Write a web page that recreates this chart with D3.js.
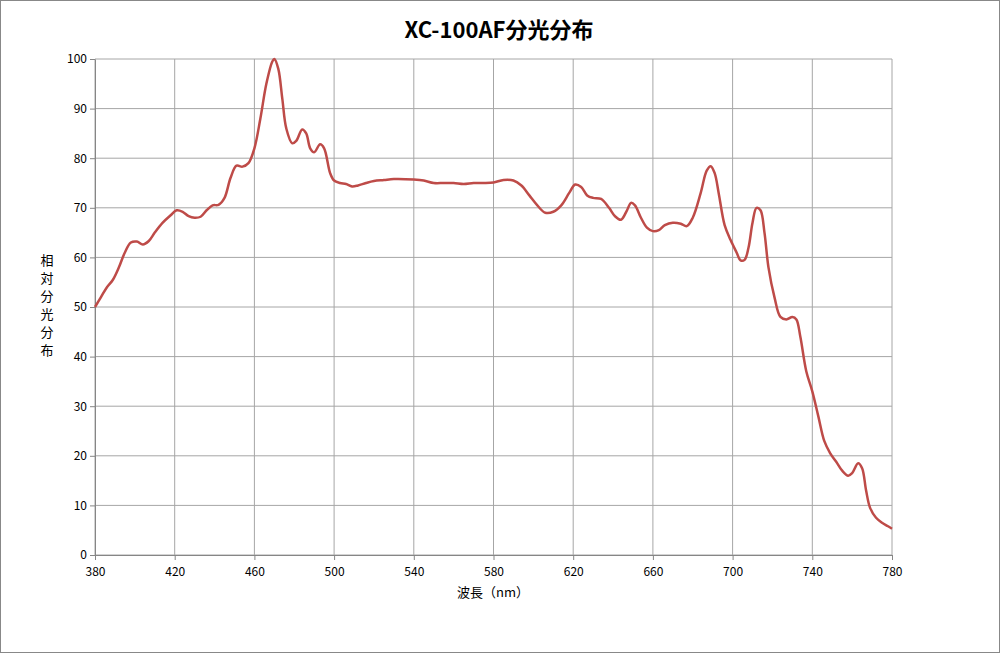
<!DOCTYPE html><html><head><meta charset="utf-8"><script src="https://cdn.jsdelivr.net/npm/d3@7"></script>
<style>body{margin:0;background:#fff}svg{display:block}</style></head><body><svg id="c" width="1000" height="653"></svg>
<script>
const wavelengths=[380,383,386,389,392,395,398,401,404,407,410,414,418,421,424,427,430,433,436,439,442,445,448,451,454,457,460,463,466,469,470,472,474,476,479,481,484,486,488,490,493,495,498,500,503,506,509,512,516,520,525,530,540,545,550,555,560,565,570,575,580,585,590,594,598,602,606,610,614,618,621,624,627,630,634,638,641,644,647,649,651,654,657,660,663,666,670,674,677,680,684,687,689,691,693,696,699,702,704,706,708,710,712,714,716,718,721,724,727,730,732,734,737,740,743,746,749,752,755,758,760,763,765,767,769,772,775,778,780];
const intensity=[50,52,54,55.5,58,61,63,63.2,62.6,63.3,65,67,68.5,69.5,69.2,68.3,68,68.2,69.5,70.5,70.6,72,76,78.5,78.3,79,82,88,95,99.5,100,98,92,86,83,83.5,85.8,85,82,81.2,82.8,82,77,75.5,75,74.8,74.3,74.5,75,75.4,75.6,75.8,75.7,75.5,75,75,75,74.8,75,75,75.1,75.6,75.5,74.5,72.5,70.5,69,69.2,70.5,73,74.7,74.2,72.5,72,71.8,70,68.3,67.6,69.5,71,70.5,68,66,65.3,65.5,66.5,67,66.8,66.3,68,73,77.5,78.4,77,73,66.5,63.5,61,59.4,59.5,62,67,70,69.5,65,58,52,48,47.5,48,47.5,44,37,33,28,23,20.5,18.8,17,16,16.5,18.5,17.5,13,9.5,7.5,6.5,5.8,5.3];
const xTicks=[380,420,460,500,540,580,620,660,700,740,780];
const yTicks=[0,10,20,30,40,50,60,70,80,90,100];
const title="XC-100AF分光分布", xLabel="波長（nm）", yLabel="相対分光分布";
const svg=d3.select("#c");
const font="'Noto Sans CJK JP','Noto Sans',sans-serif";
svg.append("rect").attr("x",0.5).attr("y",0.5).attr("width",999).attr("height",652).attr("fill","#fff").attr("stroke","#888");
const x=d3.scaleLinear().domain([380,780]).range([95,892]);
const y=d3.scaleLinear().domain([0,100]).range([555,59]);
const g=svg.append("g");
g.selectAll(".gy").data(yTicks).join("line").attr("x1",95).attr("x2",892).attr("y1",d=>y(d)).attr("y2",d=>y(d)).attr("stroke","#a6a6a6").attr("stroke-width",1);
g.selectAll(".gx").data(xTicks).join("line").attr("y1",59).attr("y2",555).attr("x1",d=>x(d)).attr("x2",d=>x(d)).attr("stroke","#a6a6a6").attr("stroke-width",1);
const ya=svg.append("g").attr("transform","translate(95,0)").call(d3.axisLeft(y).tickValues(yTicks).tickSize(5).tickSizeOuter(0));
const xa=svg.append("g").attr("transform","translate(0,555)").call(d3.axisBottom(x).tickValues(xTicks).tickSize(5).tickSizeOuter(0));
[ya,xa].forEach(a=>{a.selectAll("path,line").attr("stroke","#868686");a.selectAll("text").attr("font-family",font).attr("font-size",12).attr("fill","#000");});
xa.selectAll("text").attr("dy","1.1em");
const data=wavelengths.map((w,i)=>[w,intensity[i]]);
svg.append("path").datum(data).attr("fill","none").attr("stroke","#be4b48").attr("stroke-width",2.5)
 .attr("d",d3.line().x(d=>x(d[0])).y(d=>y(d[1])).curve(d3.curveCatmullRom));
svg.append("text").attr("x",499).attr("y",38).attr("text-anchor","middle").attr("font-family",font).attr("font-weight","bold").attr("font-size",22).text(title);
svg.append("text").attr("x",493).attr("y",597).attr("text-anchor","middle").attr("font-family",font).attr("font-size",13).text(xLabel);
svg.append("g").selectAll("text").data(Array.from(yLabel)).join("text").attr("x",47).attr("y",(d,i)=>265+i*18).attr("text-anchor","middle").attr("font-family",font).attr("font-size",13).text(d=>d);
</script></body></html>
